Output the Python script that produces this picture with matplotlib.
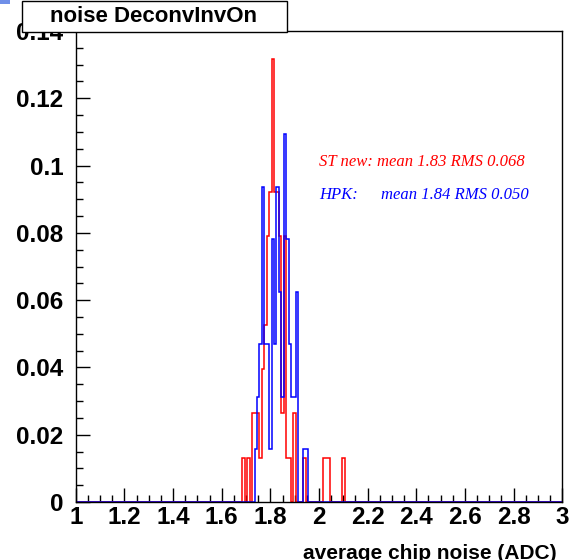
import numpy as np
import matplotlib
matplotlib.use("Agg")
import matplotlib.pyplot as plt
from matplotlib.ticker import MultipleLocator
from matplotlib.patches import Rectangle

# bin left edges (width 0.01) and entries per bin
st_bins = [1.685, 1.705, 1.725, 1.735, 1.745, 1.755, 1.765, 1.775, 1.785, 1.795,
           1.805, 1.815, 1.825, 1.835, 1.845, 1.855, 1.865, 1.875, 1.895, 1.935,
           2.015, 2.025, 2.035, 2.095]
st_counts = [1, 1, 2, 2, 2, 1, 3, 4, 6, 7,
             10, 7, 7, 6, 2, 6, 1, 1, 2, 1,
             1, 1, 1, 1]

hpk_bins = [1.735, 1.745, 1.755, 1.765, 1.775, 1.785, 1.795, 1.805, 1.815, 1.825,
            1.835, 1.845, 1.855, 1.865, 1.875, 1.885, 1.895, 1.905, 1.935, 1.945]
hpk_counts = [1, 2, 3, 6, 3, 3, 1, 5, 3, 6,
              4, 2, 7, 5, 3, 2, 2, 4, 1, 1]

title = "noise DeconvInvOn"
xlabel = "average chip noise (ADC)"
st_text = "ST new: mean 1.83 RMS 0.068"
hpk_name = "HPK:"
hpk_text = "mean 1.84 RMS 0.050"
xtick_labels = ["1", "1.2", "1.4", "1.6", "1.8", "2", "2.2", "2.4", "2.6", "2.8", "3"]
ytick_labels = ["0", "0.02", "0.04", "0.06", "0.08", "0.1", "0.12", "0.14"]

W, H = 569, 560
fig = plt.figure(figsize=(W / 100, H / 100), dpi=100)
ax = fig.add_axes([75.7 / W, 1 - 502 / H, (562.3 - 75.7) / W, (502 - 31) / H])

edges = np.round(np.arange(0.995, 3.01, 0.01), 3)
st_c = np.array(st_bins) + 0.005
hpk_c = np.array(hpk_bins) + 0.005
ax.hist(st_c, bins=edges, weights=np.array(st_counts) / sum(st_counts),
        histtype="step", color="#ff0000", lw=1.1)
ax.hist(hpk_c, bins=edges, weights=np.array(hpk_counts) / sum(hpk_counts),
        histtype="step", color="#0000ff", lw=1.1)

ax.set_xlim(1, 3)
ax.set_ylim(0, 0.14)
ax.xaxis.set_minor_locator(MultipleLocator(0.05))
ax.yaxis.set_minor_locator(MultipleLocator(0.005))
ax.tick_params(which="both", direction="in", top=False, right=False, width=1.0)
ax.tick_params(which="major", length=10)
ax.tick_params(which="minor", length=5)
ax.tick_params(axis="x", pad=3)
ax.tick_params(axis="y", pad=9)
ax.set_xticks(np.round(np.arange(1, 3.01, 0.2), 1))
ax.set_xticklabels(xtick_labels, fontfamily="Liberation Sans",
                   fontweight="bold", fontsize=17.5)
ax.set_yticks(np.round(np.arange(0, 0.141, 0.02), 2))
ax.set_yticklabels(ytick_labels, fontfamily="Liberation Sans",
                   fontweight="bold", fontsize=17.5)
for s in ax.spines.values():
    s.set_linewidth(1.0)

ax.text(2.0, 0.1, st_text, color="#ff0000", fontsize=12,
        fontfamily="Liberation Serif", style="italic")
ax.text(2.0, 0.09, hpk_name, color="#0000ff", fontsize=12,
        fontfamily="Liberation Serif", style="italic")
ax.text(2.255, 0.09, hpk_text, color="#0000ff", fontsize=12,
        fontfamily="Liberation Serif", style="italic")

fig.text(557 / W, 1 - 559 / H, xlabel, ha="right", va="baseline",
         fontfamily="Liberation Sans", fontweight="bold", fontsize=15)

# title box
fig.patches.append(Rectangle((22 / W, 1 - 32 / H), (287 - 22) / W, 31 / H,
                             transform=fig.transFigure, facecolor="white",
                             edgecolor="black", lw=1.0, zorder=5))
fig.text(154 / W, 1 - 17 / H, title, ha="center", va="center", zorder=6,
         fontfamily="Liberation Sans", fontweight="bold", fontsize=16)
fig.patches.append(Rectangle((0, 1 - 4 / H), 10 / W, 4 / H,
                             transform=fig.transFigure, facecolor="#6f8fe8",
                             edgecolor="none", zorder=5))

fig.savefig("out.png", dpi=100)
